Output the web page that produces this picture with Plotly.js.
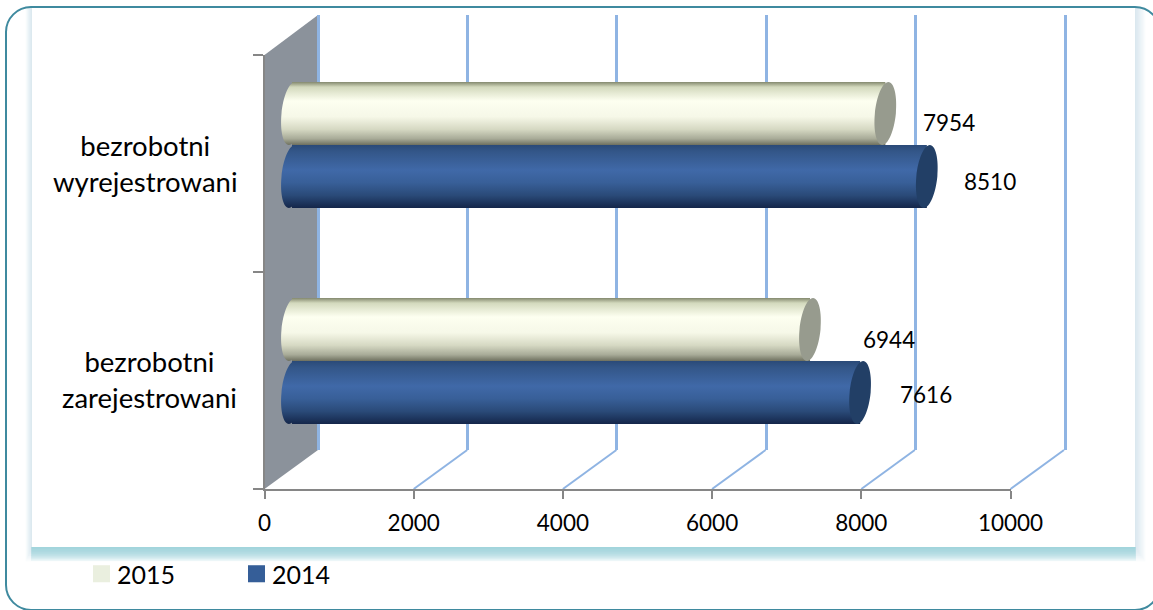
<!DOCTYPE html>
<html><head><meta charset="utf-8">
<script src="https://cdn.plot.ly/plotly-3.0.1.min.js"></script>
<style>html,body{margin:0;padding:0;background:#fff}#chart{width:1153px;height:610px}</style>
</head><body><div id="chart"></div>
<script>
const categories = ["bezrobotni<br>zarejestrowani", "bezrobotni<br>wyrejestrowani"];
const seriesNames = ["2014", "2015"];
const values2014 = [7616, 8510];
const values2015 = [6944, 7954];
const xTicks = [0, 2000, 4000, 6000, 8000, 10000];
const xTickLabels = ["0", "2000", "4000", "6000", "8000", "10000"];
const groupTicks = [0, 1, 2];

const W = 1153, H = 610;
const FONT = "Lato, 'Open Sans', sans-serif";
const INK = "#000000";
const PX = x => x / W, PY = y => 1 - y / H;
const domX = (a, b) => [PX(a), PX(b)];
const domY = (top, bottom) => [PY(bottom), PY(top)];
const pxPerUnit = (1010.5 - 264.5) / 10000;
const xAt = v => 264.5 + v * pxPerUnit;

const barPos = categories.map((c, i) => i);
const BAR_HALF = 0.1458;            // half a bar in y-axis units
const CAP_RX = 10.5 / pxPerUnit;    // ellipse half width in x-axis units
const CAP_SKEW = 3 / pxPerUnit;
const BAR_LEFT_PAD = 24;            // room for the rear ends left of zero, px
const GRID_PAD = 100;               // keeps the first and last wall gridlines off the axis edge

function rect(x0, y0, x1, y1, fill) {
  return {type:"rect", xref:"paper", yref:"paper", layer:"below", x0:PX(x0), x1:PX(x1), y0:PY(y0), y1:PY(y1),
          fillcolor:fill, line:{width:0}};
}
function capPath(cx, cy) {
  // ellipse sheared a little, as a perspective cylinder end appears
  const k = 0.5523, rx = CAP_RX, ry = BAR_HALF, s = CAP_SKEW;
  const p = (dx, dy) => `${cx + dx + s * dy / ry},${cy + dy}`;
  return `M${p(0, ry)} C${p(k * rx, ry)} ${p(rx, k * ry)} ${p(rx, 0)} C${p(rx, -k * ry)} ${p(k * rx, -ry)} ${p(0, -ry)} ` +
         `C${p(-k * rx, -ry)} ${p(-rx, -k * ry)} ${p(-rx, 0)} C${p(-rx, k * ry)} ${p(-k * rx, ry)} ${p(0, ry)} Z`;
}
function cap(v, y, fill, layer) {
  return {type:"path", xref:"x3", yref:"y3", layer, path:capPath(v, y), fillcolor:fill, line:{width:0}};
}

const shapes = [];
// panel shadow
for (let i = 1; i <= 8; i++) shapes.push(rect(32 - i * 0.8, 8, 1135 + i * 1.3, 547 + i * 1.8, "rgba(150,205,220,0.05)"));
for (let i = 1; i <= 10; i++) shapes.push(rect(32 - i * 0.1, 547, 1135 + i * 0.1, 547 + i * 1.4, "rgba(150,205,220,0.13)"));
shapes.push(rect(32, 8, 1135, 547, "#ffffff"));
// outer rounded frame
(function () {
  const l = 6, t = 7, r = 1160, b = 610, R = 25, c = R * 0.45;
  const P = (x, y) => `${PX(x)},${PY(y)}`;
  shapes.push({type:"path", xref:"paper", yref:"paper", layer:"below", fillcolor:"rgba(0,0,0,0)",
    line:{color:"#3f8a9f", width:2},
    path:`M${P(l + R, t)} L${P(r - R, t)} C${P(r - c, t)} ${P(r, t + c)} ${P(r, t + R)} L${P(r, b - R)} C${P(r, b - c)} ${P(r - c, b)} ${P(r - R, b)} ` +
         `L${P(l + R, b)} C${P(l + c, b)} ${P(l, b - c)} ${P(l, b - R)} L${P(l, t + R)} C${P(l, t + c)} ${P(l + c, t)} ${P(l + R, t)} Z`});
})();
// side wall
(function () {
  const P = (x, y) => `${PX(x)},${PY(y)}`;
  shapes.push({type:"path", xref:"paper", yref:"paper", layer:"below", fillcolor:"#8b929b", line:{width:0},
    path:`M${P(264.5, 55)} L${P(318, 15)} L${P(318, 450)} L${P(264.5, 489)} Z`});
})();
// floor lines from the front axis to the back wall
xTicks.slice(1).forEach(t => shapes.push({type:"line", xref:"paper", yref:"paper", layer:"below",
  x0:PX(xAt(t)), y0:PY(489), x1:PX(xAt(t) + 53.5), y1:PY(450), line:{color:"#8fb4e3", width:2}}));

// cylinder ends: rear ends carry the bar gradient, front ends are flat
const rearCapStart = shapes.length;
barPos.forEach((y, i) => {
  shapes.push(cap(0, y - BAR_HALF, "#36598f", "below"));
  shapes.push(cap(0, y + BAR_HALF, "#f0f2e0", "below"));
});
barPos.forEach((y, i) => {
  shapes.push(cap(values2014[i], y - BAR_HALF, "#223f66", "above"));
  shapes.push(cap(values2015[i], y + BAR_HALF, "#979b8e", "above"));
});

const labelFont = {family:FONT, size:22.5, color:INK};
const shifts = {
  s2014: [{x:66, y:-2.5}, {x:63, y:-5}],
  s2015: [{x:79, y:-9.5}, {x:64, y:-8.5}]
};
const annotations = [];
barPos.forEach((y, i) => {
  annotations.push({xref:"x3", yref:"y3", x:values2014[i], y:y - BAR_HALF, text:String(values2014[i]), showarrow:false,
    xanchor:"center", yanchor:"middle", xshift:shifts.s2014[i].x, yshift:shifts.s2014[i].y, font:labelFont});
  annotations.push({xref:"x3", yref:"y3", x:values2015[i], y:y + BAR_HALF, text:String(values2015[i]), showarrow:false,
    xanchor:"center", yanchor:"middle", xshift:shifts.s2015[i].x, yshift:shifts.s2015[i].y, font:labelFont});
  annotations.push({xref:"paper", yref:"y3", x:PX(i === 0 ? 149.5 : 145), y, text:categories[i], showarrow:false, align:"center",
    xanchor:"center", yanchor:"middle", yshift:-18.5, font:{family:FONT, size:27.5, color:INK}});
});

const traces = [
  {type:"bar", orientation:"h", name:seriesNames[0], x:values2014, y:barPos, xaxis:"x3", yaxis:"y3",
   marker:{color:"#355e98", line:{width:0}}, hoverinfo:"x+name"},
  {type:"bar", orientation:"h", name:seriesNames[1], x:values2015, y:barPos, xaxis:"x3", yaxis:"y3",
   marker:{color:"#eaefdf", line:{width:0}}, hoverinfo:"x+name"},
  // invisible anchors so the wall-grid and front-axis subplots are drawn
  {type:"scatter", mode:"markers", x:xTicks, y:xTicks.map(() => 0), xaxis:"x", yaxis:"y", showlegend:false, hoverinfo:"skip",
   marker:{size:1, opacity:0}},
  {type:"scatter", mode:"markers", x:xTicks, y:xTicks.map(() => 0), xaxis:"x2", yaxis:"y2", showlegend:false, hoverinfo:"skip",
   marker:{size:1, opacity:0}}
];

const gridScale = (1065 - 318) / 10000;
const layout = {
  width:W, height:H, margin:{l:0, r:0, t:0, b:0, pad:0}, paper_bgcolor:"rgba(0,0,0,0)", plot_bgcolor:"rgba(0,0,0,0)",
  font:{family:FONT, color:INK}, showlegend:true, barmode:"group", bargap:0.4167, bargroupgap:0,
  legend:{orientation:"h", traceorder:"reversed", x:PX(77), xanchor:"left", y:PY(574), yanchor:"middle",
          bgcolor:"rgba(0,0,0,0)", font:{family:FONT, size:25, color:INK}, entrywidth:110, entrywidthmode:"pixels"},
  // back wall grid
  xaxis:{domain:domX(318 - GRID_PAD * gridScale, 1065 + GRID_PAD * gridScale), anchor:"y", range:[-GRID_PAD, 10000 + GRID_PAD],
         tickmode:"array", tickvals:xTicks, showticklabels:false, ticks:"",
         showgrid:true, gridcolor:"#8fb4e3", gridwidth:2.5, zeroline:false, showline:false, fixedrange:true},
  yaxis:{domain:domY(15, 450), anchor:"x", range:[0, 1], showgrid:false, showticklabels:false, ticks:"", zeroline:false, showline:false, fixedrange:true},
  // front axes
  xaxis2:{domain:domX(264.5, 1010.5), anchor:"y2", range:[0, 10000], tickmode:"array", tickvals:xTicks, ticktext:xTickLabels, ticks:"outside", ticklen:8, tickwidth:1.5,
          tickcolor:"#868686", showline:true, linecolor:"#868686", linewidth:2, showgrid:false, zeroline:false, tickfont:{family:FONT, size:22.5, color:INK},
          ticklabelstandoff:5, side:"bottom", fixedrange:true},
  yaxis2:{domain:domY(55, 489), anchor:"x2", range:[0, 2], tickmode:"array", tickvals:groupTicks, ticks:"outside", ticklen:10, tickwidth:2,
          tickcolor:"#868686", showline:true, linecolor:"#868686", linewidth:1.5, showgrid:false, zeroline:false, showticklabels:false, fixedrange:true},
  // bars, offset into the depth of the chart
  xaxis3:{domain:domX(292 - BAR_LEFT_PAD, 1038), anchor:"y3", range:[-BAR_LEFT_PAD / pxPerUnit, 10000], visible:false, fixedrange:true},
  yaxis3:{domain:domY(37, 469), anchor:"x3", range:[-0.5, 1.5], visible:false, fixedrange:true},
  shapes, annotations
};

const gd = document.getElementById("chart");
Plotly.newPlot(gd, traces, layout, {displayModeBar:false, responsive:false}).then(() => {
  const svg = gd.querySelector("svg.main-svg");
  const NS = "http://www.w3.org/2000/svg";
  const defs = svg.querySelector("defs") || svg.insertBefore(document.createElementNS(NS, "defs"), svg.firstChild);
  function grad(id, stops) {
    const g = document.createElementNS(NS, "linearGradient");
    g.setAttribute("id", id); g.setAttribute("x1", "0"); g.setAttribute("y1", "0"); g.setAttribute("x2", "0"); g.setAttribute("y2", "1");
    stops.forEach(([o, c]) => {
      const s = document.createElementNS(NS, "stop");
      s.setAttribute("offset", o); s.setAttribute("stop-color", c); g.appendChild(s);
    });
    defs.appendChild(g);
  }
  grad("cyl2014", [[0, "#2a4a78"], [0.1, "#335688"], [0.4, "#4069a8"], [0.6, "#385f98"], [0.8, "#2a4a78"], [1, "#14264a"]]);
  grad("cyl2015", [[0, "#84896f"], [0.08, "#d3d9bd"], [0.3, "#fdfff0"], [0.55, "#f6f8e8"], [0.75, "#d6d9c3"], [0.9, "#a8ab98"], [1, "#6e705f"]]);
  const bars = gd.querySelectorAll(".barlayer .trace");
  bars.forEach((t, i) => t.querySelectorAll("path").forEach(p => { p.style.fill = `url(#${i === 0 ? "cyl2014" : "cyl2015"})`; }));
  for (let i = 0; i < barPos.length * 2; i++) {
    const idx = rearCapStart + i;
    gd.querySelectorAll(`.shapelayer path[data-index="${idx}"]`).forEach(p => { p.style.fill = `url(#${i % 2 === 0 ? "cyl2014" : "cyl2015"})`; p.style.fillOpacity = 1; });
  }
  gd.querySelectorAll(".legendpoints path").forEach(p => p.setAttribute("transform", "translate(24.5,0) scale(1.42)"));
});
</script>
</body></html>
